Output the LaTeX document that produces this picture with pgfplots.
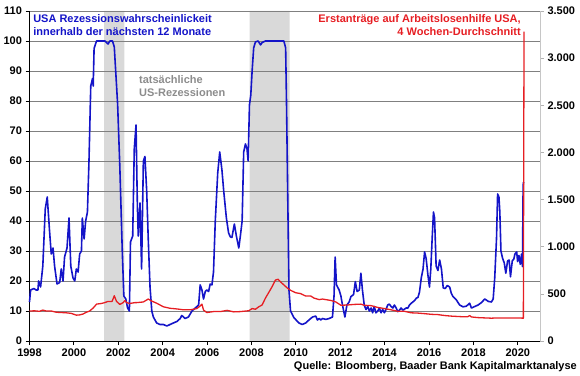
\documentclass[border=0pt]{standalone}
\usepackage{fontspec}
\setmainfont{Liberation Sans}
\usepackage{pgfplots}
\pgfplotsset{compat=1.18}
\definecolor{cblue}{RGB}{20,20,200}
\definecolor{cred}{RGB}{230,30,35}
\definecolor{cband}{RGB}{217,217,217}
\definecolor{cgrid}{RGB}{128,128,128}
\definecolor{ctext}{RGB}{140,140,140}
\begin{document}
\begin{tikzpicture}
\pgfplotsset{
  common/.style={
    scale only axis, width=510.5pt, height=330pt,
    at={(0pt,0pt)}, anchor=south west,
    xmin=1998, xmax=2021,
    tick label style={font=\fontsize{11}{13}\selectfont\bfseries},
    /pgf/number format/assume math mode=true,
    tick align=outside, major tick length=4pt,
    set layers, clip=false,
  }
}
\begin{axis}[common,
  ymin=0, ymax=110, ytick={0,10,...,110},
  xtick={1998,2000,...,2020},
  x tick label style={/pgf/number format/1000 sep={}},
  axis x line*=bottom, axis y line*=left,
  ymajorgrids, grid style={cgrid, line width=0.8pt},
  axis line style={black, line width=0.8pt},
  tick style={black, line width=0.8pt},
]
\addplot[draw=none, fill=cband, on layer=axis background, forget plot] coordinates {(2001.36,0) (2001.36,110) (2002.27,110) (2002.27,0)} \closedcycle;
\addplot[draw=none, fill=cband, on layer=axis background, forget plot] coordinates {(2007.92,0) (2007.92,110) (2009.72,110) (2009.72,0)} \closedcycle;
\addplot[cblue, line width=1.6pt, line join=round] coordinates {
(1998.00,13) (1998.05,17) (1998.20,17.5) (1998.30,17) (1998.38,17) (1998.41,20) (1998.50,18)
(1998.60,25) (1998.71,44) (1998.80,48) (1998.90,37) (1998.98,29) (1999.06,31) (1999.13,25)
(1999.24,19) (1999.36,19.5) (1999.43,24) (1999.51,20) (1999.58,28) (1999.69,31) (1999.78,41)
(1999.86,25) (1999.96,21) (2000.04,20) (2000.11,24) (2000.19,23) (2000.26,29) (2000.34,30)
(2000.38,41) (2000.46,34) (2000.53,40) (2000.61,43) (2000.68,60) (2000.76,85) (2000.84,87.5)
(2000.87,85) (2000.91,97.5) (2001.02,100) (2001.20,100) (2001.40,100) (2001.54,99) (2001.62,100)
(2001.74,100) (2001.82,98) (2001.97,79) (2002.07,58) (2002.18,30) (2002.25,15) (2002.34,14)
(2002.42,11) (2002.50,10) (2002.55,33) (2002.65,35) (2002.72,64) (2002.80,72) (2002.86,45)
(2002.90,35) (2002.98,46) (2003.05,24) (2003.13,60) (2003.20,61.5) (2003.28,50) (2003.35,34)
(2003.43,18) (2003.51,10) (2003.58,8) (2003.73,6) (2003.88,5.5) (2004.03,5.5) (2004.19,5)
(2004.33,5.5) (2004.48,6) (2004.64,6.5) (2004.79,7.5) (2004.86,8.5) (2004.94,8) (2005.01,7.5)
(2005.16,8) (2005.32,10) (2005.47,11) (2005.62,12) (2005.69,18.7) (2005.77,17) (2005.84,14)
(2005.92,16.5) (2005.99,17) (2006.07,16.5) (2006.14,19) (2006.22,18.7) (2006.29,23) (2006.37,40)
(2006.48,56) (2006.57,63) (2006.67,57) (2006.75,50) (2006.87,41) (2006.97,36) (2007.05,34.7)
(2007.12,34.5) (2007.23,39) (2007.32,35) (2007.43,31) (2007.50,35) (2007.58,40) (2007.65,63)
(2007.73,65.7) (2007.80,64) (2007.85,60) (2007.91,78.7) (2007.97,82) (2008.03,90) (2008.10,97.7)
(2008.18,99.7) (2008.30,100) (2008.41,98.7) (2008.48,99.5) (2008.63,100) (2009.46,100) (2009.54,97.7)
(2009.58,79) (2009.64,45) (2009.69,17) (2009.76,10) (2009.91,7.8) (2010.14,6) (2010.29,5.5)
(2010.44,6) (2010.59,7) (2010.75,8) (2010.90,8.3) (2010.97,7) (2011.05,7.5) (2011.12,7)
(2011.20,7.5) (2011.35,7.2) (2011.50,7.5) (2011.65,8) (2011.72,15) (2011.77,28) (2011.83,18.7)
(2011.95,17) (2012.03,15) (2012.10,12) (2012.21,8) (2012.30,12) (2012.40,13) (2012.48,14.8)
(2012.60,15.5) (2012.68,19.8) (2012.76,16.5) (2012.86,17) (2012.93,22.6) (2013.00,17) (2013.08,12)
(2013.16,10.5) (2013.24,11.5) (2013.31,10) (2013.39,11) (2013.46,9.4) (2013.53,11.5) (2013.61,9.4)
(2013.69,10) (2013.76,11) (2013.84,9.4) (2013.91,10.5) (2013.99,9.4) (2014.06,10.5) (2014.14,12)
(2014.21,12.3) (2014.29,11.5) (2014.37,11) (2014.44,12) (2014.52,11) (2014.59,9.8) (2014.67,10.3)
(2014.74,11) (2014.82,10.3) (2014.89,10.6) (2014.97,11) (2015.05,11) (2015.12,12) (2015.20,12.6)
(2015.27,13) (2015.35,13.5) (2015.43,14.3) (2015.50,14.5) (2015.57,16.3) (2015.65,21) (2015.73,24)
(2015.80,29.7) (2015.87,27.5) (2015.95,22) (2016.02,18) (2016.08,24) (2016.14,34) (2016.20,43)
(2016.25,41) (2016.32,25) (2016.40,23.5) (2016.48,27) (2016.56,24) (2016.64,17.7) (2016.73,17.5)
(2016.82,18.5) (2016.93,18) (2017.00,16) (2017.08,14.8) (2017.23,13.7) (2017.38,12) (2017.53,11.4)
(2017.68,11.6) (2017.83,12.6) (2017.91,11) (2018.06,11.5) (2018.21,12) (2018.36,12.8) (2018.51,14)
(2018.67,13.2) (2018.81,13) (2018.89,14) (2018.96,21) (2019.04,34) (2019.09,49) (2019.15,48)
(2019.19,43) (2019.24,30) (2019.31,27.7) (2019.39,26) (2019.46,22.6) (2019.54,26.7) (2019.61,27)
(2019.67,21.4) (2019.75,26.7) (2019.82,27.3) (2019.87,29) (2019.95,29.7) (2019.99,26.5) (2020.05,28.5)
(2020.11,25.6) (2020.17,29) (2020.21,24.8) (2020.24,52) (2020.26,53)
};
\node[anchor=north west, inner sep=0pt, align=left, font=\fontsize{11}{13}\selectfont\bfseries, text=cblue] at (axis cs:1998.16,109) {USA Rezessionswahrscheinlickeit\\innerhalb der nächsten 12 Monate};
\node[anchor=north west, inner sep=0pt, align=left, font=\fontsize{11}{12.5}\selectfont\bfseries, text=ctext] at (axis cs:2002.93,88.5) {tatsächliche\\US-Rezessionen};
\node[anchor=north east, inner sep=0pt, align=right, font=\fontsize{11}{13}\selectfont\bfseries, text=cred] at (axis cs:2020.14,109) {Erstanträge auf Arbeitslosenhilfe USA,\\4 Wochen-Durchschnitt};
\node[anchor=base east, inner sep=0pt, font=\fontsize{11}{13}\selectfont\bfseries, text=black] at (rel axis cs:1.0725,-0.085) {Quelle: Bloomberg, Baader Bank Kapitalmarktanalyse};
\end{axis}
\begin{axis}[common,
  ymin=0, ymax=3500, ytick={0,500,...,3500},
  axis y line*=right, axis x line=none,
  y tick label style={/pgf/number format/.cd, 1000 sep={.}},
  axis line style={draw=gray!45, line width=0.6pt},
  ytick style={gray!60, line width=0.6pt},
]
\addplot[cred, line width=1.3pt, line join=round] coordinates {
(1998.00,318) (1998.23,320) (1998.45,315) (1998.60,328) (1998.75,318) (1998.98,318) (1999.21,305)
(1999.43,302) (1999.66,299) (1999.88,293) (2000.11,274) (2000.26,277) (2000.41,286) (2000.56,305)
(2000.71,318) (2000.87,350) (2001.02,391) (2001.24,398) (2001.39,407) (2001.54,420) (2001.72,420)
(2001.82,480) (2001.92,420) (2002.07,388) (2002.22,407) (2002.30,430) (2002.37,407) (2002.52,398)
(2002.75,407) (2002.82,407) (2003.13,414) (2003.35,445) (2003.51,423) (2003.73,401) (2004.03,363)
(2004.33,347) (2004.64,340) (2004.94,331) (2005.24,331) (2005.54,344) (2005.69,372) (2005.77,391)
(2005.84,328) (2005.99,302) (2006.29,312) (2006.60,312) (2006.90,325) (2007.20,309) (2007.50,312)
(2007.88,321) (2008.03,344) (2008.18,337) (2008.33,363) (2008.48,382) (2008.63,455) (2008.78,515)
(2008.93,576) (2009.08,646) (2009.20,655) (2009.31,627) (2009.46,595) (2009.61,563) (2009.76,538)
(2009.99,512) (2010.21,503) (2010.44,477) (2010.67,477) (2010.82,455) (2011.05,439) (2011.20,445)
(2011.35,439) (2011.58,430) (2011.80,414) (2012.03,379) (2012.33,382) (2012.63,388) (2012.93,391)
(2013.08,379) (2013.39,375) (2013.69,356) (2013.99,344) (2014.29,331) (2014.59,315) (2014.89,315)
(2015.20,299) (2015.50,296) (2015.80,290) (2016.10,283) (2016.40,280) (2016.71,270) (2017.00,264)
(2017.45,258) (2017.75,258) (2017.83,270) (2017.91,255) (2018.21,248) (2018.51,245) (2018.81,242)
(2019.11,245) (2019.56,245) (2020.01,245) (2020.25,242) (2020.28,3280)
};
\end{axis}
\pgfresetboundingbox
\path (-29.5pt,-34pt) rectangle (550.5pt,341pt);
\end{tikzpicture}
\end{document}
